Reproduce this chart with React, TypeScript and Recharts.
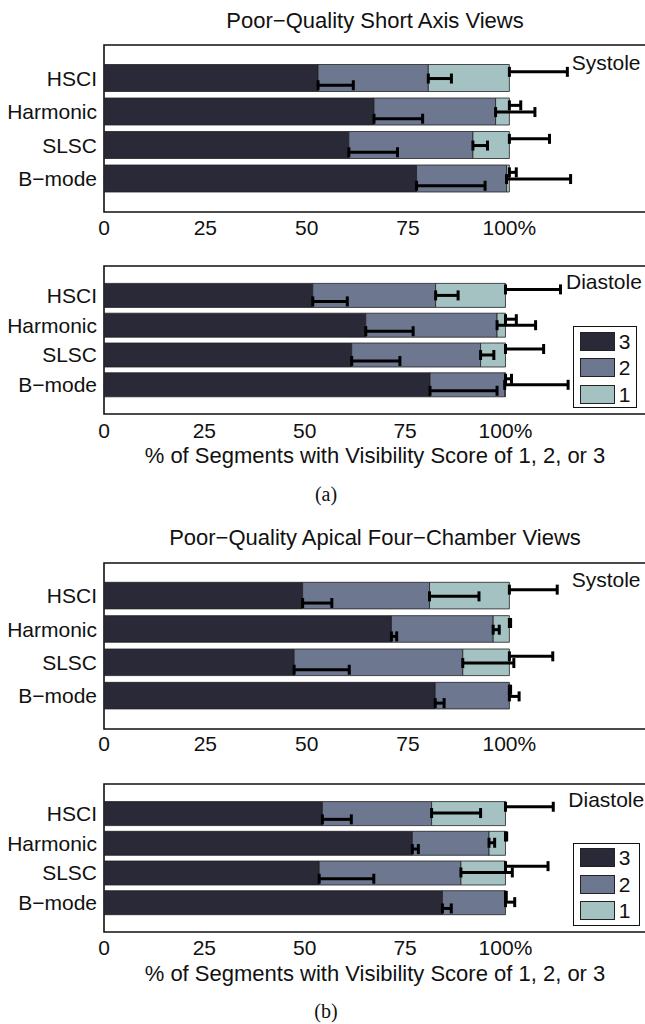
import React from 'react';
import { BarChart, Bar, XAxis, YAxis, ErrorBar, ReferenceArea, Legend } from 'recharts';

const categories = ['HSCI', 'Harmonic', 'SLSC', 'B\u2212mode'];
const scoreLabels = ['3', '2', '1'];
const xTicks = [0, 25, 50, 75, 100];

// (a) short axis, systole
const saxSys3 = [52.8, 66.6, 60.4, 77.1];
const saxSys2 = [27.2, 30.0, 30.6, 22.2];
const saxSys1 = [20.0, 3.4, 9.0, 0.7];
const saxSysErr3 = [8.7, 12.0, 12.0, 16.9];
const saxSysErr2 = [5.7, 9.7, 3.6, 15.8];
const saxSysErr1 = [14.3, 2.8, 9.9, 1.7];

// (a) short axis, diastole
const saxDia3 = [52.0, 65.2, 61.7, 81.2];
const saxDia2 = [30.6, 32.7, 32.1, 18.6];
const saxDia1 = [17.4, 2.1, 6.2, 0.2];
const saxDiaErr3 = [8.6, 11.8, 12.0, 16.7];
const saxDiaErr2 = [5.6, 9.6, 3.3, 15.8];
const saxDiaErr1 = [13.7, 2.7, 9.5, 1.5];

// (b) apical four-chamber, systole
const a4cSys3 = [49.0, 70.9, 46.9, 81.7];
const a4cSys2 = [31.3, 25.1, 41.6, 18.3];
const a4cSys1 = [19.7, 4.0, 11.5, 0];
const a4cSysErr3 = [7.2, 1.3, 13.6, 2.2];
const a4cSysErr2 = [12.2, 1.5, 12.6, 2.4];
const a4cSysErr1 = [11.8, 0.3, 10.7, 0.3];

// (b) apical four-chamber, diastole
const a4cDia3 = [54.4, 76.8, 53.6, 84.3];
const a4cDia2 = [27.2, 19.1, 35.3, 15.7];
const a4cDia1 = [18.4, 4.1, 11.1, 0];
const a4cDiaErr3 = [7.2, 1.5, 13.6, 2.2];
const a4cDiaErr2 = [12.2, 1.4, 12.8, 2.3];
const a4cDiaErr1 = [11.9, 0.3, 10.6, 0.2];

const COLORS = ['#292937', '#6d7790', '#a3c2c1'];
const FONT = '"Liberation Sans", Arial, Helvetica, sans-serif';
const TXT = '#111';

function buildRows(s3: number[], s2: number[], s1: number[], e3: number[], e2: number[], e1: number[]) {
  return categories.map((name, i) => ({
    name,
    s3: s3[i],
    s2: s2[i],
    s1: s1[i],
    end3: s3[i],
    end2: s3[i] + s2[i],
    end1: s3[i] + s2[i] + s1[i],
    e3: [0, e3[i]],
    e2: [0, e2[i]],
    e1: [0, e1[i]],
  }));
}

const renderLegend = (props: any) => {
  const items = (props.payload || []).filter((p: any) => scoreLabels.includes(String(p.value)));
  items.sort((a: any, b: any) => scoreLabels.indexOf(String(a.value)) - scoreLabels.indexOf(String(b.value)));
  return (
    <div
      style={{
        border: '1.5px solid #111',
        background: '#fff',
        boxSizing: 'border-box',
        width: '100%',
        height: '100%',
        padding: '1px 0 0 6px',
        fontFamily: FONT,
      }}
    >
      {items.map((it: any) => (
        <div key={it.value} style={{ display: 'flex', alignItems: 'center', height: 26.5 }}>
          <span
            style={{
              display: 'inline-block',
              width: 35,
              height: 19,
              background: it.color,
              border: '1px solid #222',
              boxSizing: 'border-box',
            }}
          />
          <span style={{ marginLeft: 4, fontSize: 21, color: TXT, lineHeight: 1 }}>{it.value}</span>
        </div>
      ))}
    </div>
  );
};

interface PanelProps {
  rows: any[];
  top: number;
  marginTop: number;
  plotHeight: number;
  axisHeight: number;
  tickMargin: number;
  pad: number;
  barSize: number;
  errSize: number;
  xMax: number;
  showLabel?: boolean;
  legendTop?: number;
  legendSize?: [number, number];
}

function Panel(p: PanelProps) {
  const height = p.marginTop + p.plotHeight + p.axisHeight;
  const tickStyle = { fill: TXT, fontSize: 21, fontFamily: FONT };
  const numAxis = {
    type: 'number' as const,
    domain: [0, p.xMax],
    allowDataOverflow: true,
    ticks: xTicks,
    interval: 0 as const,
  };
  const errBar = (dataKey: string) => (
    <ErrorBar dataKey={dataKey} direction="x" width={5} stroke="#000" strokeWidth={3} />
  );
  return (
    <div style={{ position: 'absolute', left: 0, top: p.top }}>
      <BarChart
        width={660}
        height={height}
        data={p.rows}
        layout="vertical"
        barGap={0}
        margin={{ top: p.marginTop, right: 14, bottom: 0, left: 0 }}
      >
        <XAxis
          {...numAxis}
          tickFormatter={(v: number) => (v === 100 ? '100%' : String(v))}
          axisLine={false}
          tickLine={false}
          tickSize={0}
          tickMargin={p.tickMargin}
          height={p.axisHeight}
          tick={tickStyle}
          label={
            p.showLabel
              ? {
                  value: '% of Segments with Visibility Score of 1, 2, or 3',
                  position: 'insideBottom',
                  offset: 7.5,
                  fill: TXT,
                  fontSize: 22,
                  fontFamily: FONT,
                }
              : undefined
          }
        />
        <XAxis {...numAxis} xAxisId="bt" orientation="bottom" mirror tick={false} axisLine={false} tickSize={5} tickLine={{ stroke: '#222' }} />
        <XAxis {...numAxis} xAxisId="tp" orientation="top" mirror tick={false} axisLine={false} tickSize={5} tickLine={{ stroke: '#222' }} />
        <YAxis
          type="category"
          dataKey="name"
          width={104}
          padding={{ top: p.pad, bottom: p.pad }}
          axisLine={false}
          tickLine={false}
          tickSize={0}
          tickMargin={7}
          interval={0}
          tick={tickStyle}
        />
        <YAxis yAxisId="err" type="category" dataKey="name" hide padding={{ top: p.pad, bottom: p.pad }} />
        <YAxis yAxisId="box" type="category" dataKey="name" hide />
        <YAxis
          yAxisId="rt"
          type="category"
          dataKey="name"
          orientation="right"
          mirror
          width={0}
          tick={false}
          axisLine={false}
          tickSize={4}
          tickLine={{ stroke: '#222' }}
          padding={{ top: p.pad, bottom: p.pad }}
        />
        <ReferenceArea yAxisId="box" x1={0} x2={p.xMax} stroke="#111" strokeWidth={1.6} fill="none" fillOpacity={0} />
        <Bar dataKey="s3" name="3" stackId="a" fill={COLORS[0]} stroke="#222" strokeWidth={0.8} barSize={p.barSize} isAnimationActive={false} />
        <Bar dataKey="s2" name="2" stackId="a" fill={COLORS[1]} stroke="#222" strokeWidth={0.8} barSize={p.barSize} isAnimationActive={false} />
        <Bar dataKey="s1" name="1" stackId="a" fill={COLORS[2]} stroke="#222" strokeWidth={0.8} barSize={p.barSize} isAnimationActive={false} />
        <Bar yAxisId="err" dataKey="end1" fill="none" legendType="none" barSize={p.errSize} isAnimationActive={false}>
          {errBar('e1')}
        </Bar>
        <Bar yAxisId="err" dataKey="end2" fill="none" legendType="none" barSize={p.errSize} isAnimationActive={false}>
          {errBar('e2')}
        </Bar>
        <Bar yAxisId="err" dataKey="end3" fill="none" legendType="none" barSize={p.errSize} isAnimationActive={false}>
          {errBar('e3')}
        </Bar>
        {p.legendTop !== undefined && (
          <Legend
            layout="vertical"
            align="center"
            verticalAlign="middle"
            content={renderLegend}
            wrapperStyle={{
              left: 572.7,
              top: p.legendTop,
              width: p.legendSize ? p.legendSize[0] : 64,
              height: p.legendSize ? p.legendSize[1] : 82,
            }}
          />
        )}
      </BarChart>
    </div>
  );
}

const textStyle: React.CSSProperties = {
  position: 'absolute',
  fontFamily: FONT,
  fontSize: 21,
  lineHeight: '21px',
  color: TXT,
  whiteSpace: 'nowrap',
};

const titleStyle: React.CSSProperties = {
  ...textStyle,
  fontSize: 22,
  lineHeight: '22px',
  left: 104,
  width: 542,
  textAlign: 'center',
};

const captionStyle: React.CSSProperties = {
  position: 'absolute',
  left: 276,
  width: 100,
  textAlign: 'center',
  fontFamily: '"Liberation Serif", "Times New Roman", serif',
  fontSize: 20,
  lineHeight: '20px',
  color: TXT,
};

export default function App() {
  return (
    <div
      style={{
        position: 'absolute',
        left: 0,
        top: 0,
        width: 645,
        height: 1024,
        overflow: 'hidden',
        background: '#fff',
        fontFamily: FONT,
      }}
    >
      <div style={{ ...titleStyle, top: 9.5 }}>Poor{'\u2212'}Quality Short Axis Views</div>
      <Panel
        rows={buildRows(saxSys3, saxSys2, saxSys1, saxSysErr3, saxSysErr2, saxSysErr1)}
        top={0}
        marginTop={45}
        plotHeight={167}
        axisHeight={30}
        tickMargin={8}
        pad={16.5}
        barSize={27}
        errSize={6.7}
        xMax={133.7}
      />
      <div style={{ ...textStyle, left: 571.7, top: 52.3 }}>Systole</div>

      <Panel
        rows={buildRows(saxDia3, saxDia2, saxDia1, saxDiaErr3, saxDiaErr2, saxDiaErr1)}
        top={236}
        marginTop={30}
        plotHeight={148}
        axisHeight={56}
        tickMargin={9}
        pad={14.4}
        barSize={24}
        errSize={6}
        xMax={135}
        showLabel
        legendTop={90}
        legendSize={[64, 82]}
      />
      <div style={{ ...textStyle, left: 566, top: 270.5 }}>Diastole</div>

      <div style={{ ...captionStyle, top: 484 }}>(a)</div>

      <div style={{ ...titleStyle, top: 526.8 }}>
        Poor{'\u2212'}Quality Apical Four{'\u2212'}Chamber Views
      </div>
      <Panel
        rows={buildRows(a4cSys3, a4cSys2, a4cSys1, a4cSysErr3, a4cSysErr2, a4cSysErr1)}
        top={522}
        marginTop={41}
        plotHeight={166}
        axisHeight={30}
        tickMargin={7.5}
        pad={16.3}
        barSize={26.6}
        errSize={6.7}
        xMax={133.7}
      />
      <div style={{ ...textStyle, left: 571.7, top: 569 }}>Systole</div>

      <Panel
        rows={buildRows(a4cDia3, a4cDia2, a4cDia1, a4cDiaErr3, a4cDiaErr2, a4cDiaErr1)}
        top={754}
        marginTop={30}
        plotHeight={148}
        axisHeight={56}
        tickMargin={8.5}
        pad={14.6}
        barSize={24}
        errSize={6.3}
        xMax={135}
        showLabel
        legendTop={88.7}
        legendSize={[67, 83]}
      />
      <div style={{ ...textStyle, left: 568.3, top: 789 }}>Diastole</div>

      <div style={{ ...captionStyle, top: 1001 }}>(b)</div>
    </div>
  );
}
